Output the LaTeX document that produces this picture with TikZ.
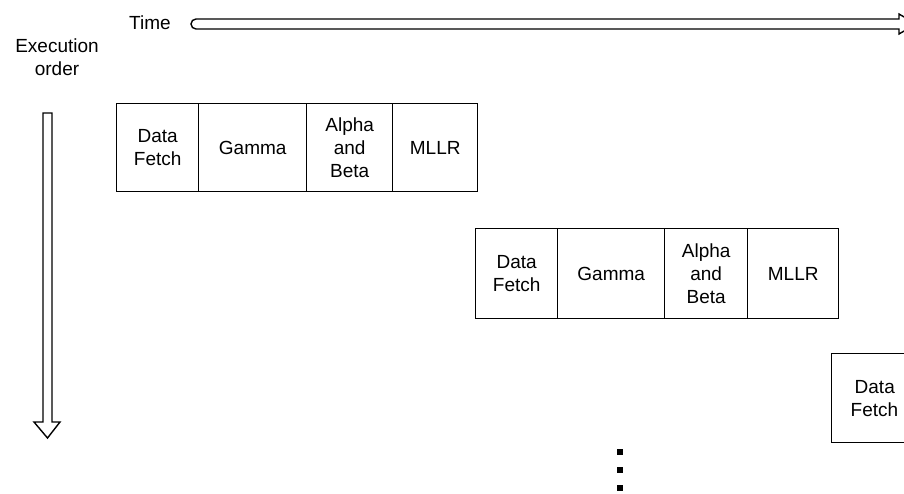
\documentclass[tikz,border=0pt]{standalone}
\usepackage{fontspec}
\setmainfont{Liberation Sans}
\begin{document}
\begin{tikzpicture}[x=1pt,y=-1pt,
  line width=1.4pt,
  stage/.style={draw=black, line width=1.4pt, inner sep=0pt, align=center,
    font=\fontsize{19}{23}\selectfont},
  lbl/.style={inner sep=0pt, align=center, font=\fontsize{19}{23}\selectfont},
  dot/.style={fill=black, draw=none, minimum size=6pt, inner sep=0pt}]
\useasboundingbox (0,0) rectangle (904,493);
\clip (0,0) rectangle (904,493);
% time arrow
\draw[line join=miter] (196,19) -- (899,19) -- (899,14) -- (916,24) -- (899,34) -- (899,29) -- (196,29) arc[start angle=270, end angle=90, radius=5pt] -- cycle;
\node[lbl] (time) at (150,23) {Time};
% execution order arrow
\node[lbl] (exec) at (57,57) {Execution\\order};
\draw[line join=miter] (43,113) -- (43,422) -- (34,422) -- (47.5,438) -- (60,422) -- (52,422) -- (52,113) -- cycle;
% row 1
\node[stage, minimum width=82pt, minimum height=88pt, anchor=north west] (df1) at (116,103) {Data\\Fetch};
\node[stage, minimum width=108pt, minimum height=88pt, anchor=north west] (g1) at (198,103) {Gamma};
\node[stage, minimum width=86pt, minimum height=88pt, anchor=north west] (ab1) at (306,103) {Alpha\\and\\Beta};
\node[stage, minimum width=85pt, minimum height=88pt, anchor=north west] (m1) at (392,103) {MLLR};
% row 2
\node[stage, minimum width=82pt, minimum height=90pt, anchor=north west] (df2) at (475,228) {Data\\Fetch};
\node[stage, minimum width=107pt, minimum height=90pt, anchor=north west] (g2) at (557,228) {Gamma};
\node[stage, minimum width=83pt, minimum height=90pt, anchor=north west] (ab2) at (664,228) {Alpha\\and\\Beta};
\node[stage, minimum width=91pt, minimum height=90pt, anchor=north west] (m2) at (747,228) {MLLR};
% row 3
\node[stage, minimum width=90pt, minimum height=89pt, anchor=north west, text width=80pt, align=left] (df3) at (831,353) {\hspace*{18pt}Data\\\hspace*{14pt}Fetch};
% dots
\node[dot] (d1) at (620,452) {};
\node[dot] (d2) at (620,470) {};
\node[dot] (d3) at (620,488) {};
\end{tikzpicture}
\end{document}
